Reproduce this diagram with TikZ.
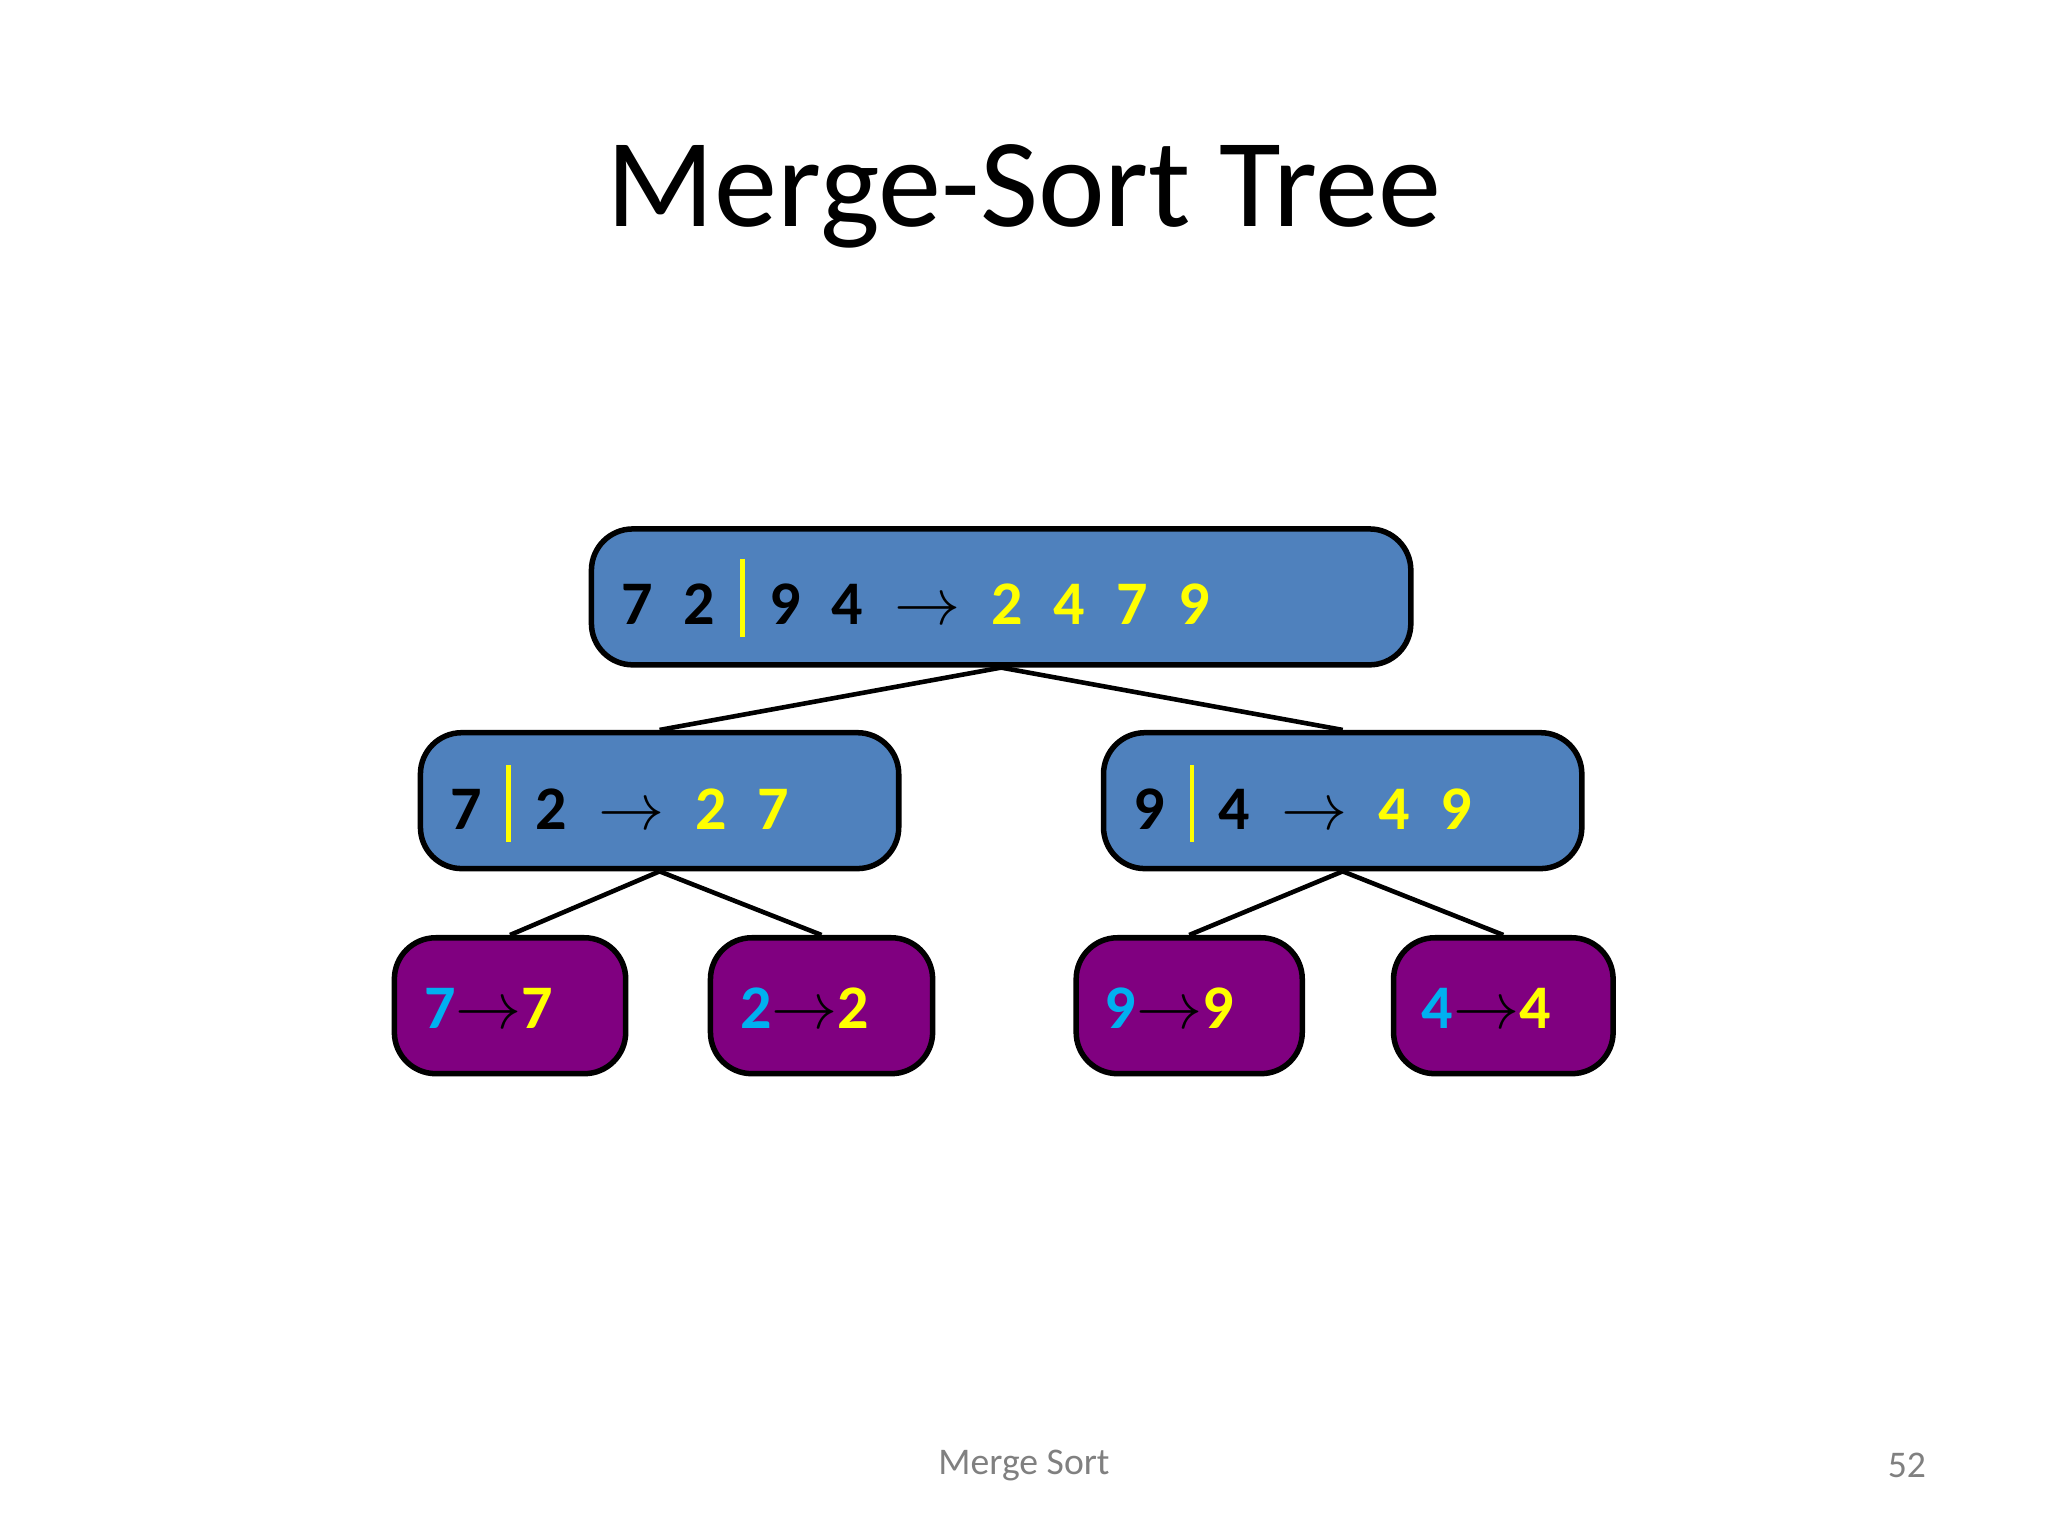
\documentclass[tikz,border=0pt]{standalone}
\usepackage{fontspec}
\setmainfont{Carlito}
\begin{document}
\begin{tikzpicture}[x=0.01cm,y=-0.01cm,
  bluebox/.style={draw=black,line width=1.2pt,rounded corners=9pt,fill=boxblue,inner sep=0pt},
  purplebox/.style={draw=black,line width=1.2pt,rounded corners=9pt,fill=boxpurple,inner sep=0pt},
  lbl/.style={anchor=west,inner sep=0pt,font=\fontsize{13.5}{15}\bfseries\selectfont},
  edge/.style={line width=1pt,black}]
\definecolor{boxblue}{HTML}{4F81BD}
\definecolor{boxpurple}{HTML}{800080}
\definecolor{ycol}{HTML}{FFFF00}
\definecolor{ccol}{HTML}{00B0F0}
\newcommand{\gp}{\hspace{0.5em}}
\newcommand{\vbar}{\hspace{0.4em}{\color{ycol}\rule[-0.2em]{1pt}{1.25em}}\hspace{0.4em}}
\newcommand{\arr}{$\rightarrow$}
\useasboundingbox (0,0) rectangle (1568,1176);
\node[font=\fontsize{27.5}{32}\selectfont] (title) at (784,150) {Merge-Sort Tree};
\node[font=\fontsize{8.2}{10}\selectfont,text=gray] (foot) at (784,1122) {Merge Sort};
\node[font=\fontsize{8.2}{10}\selectfont,text=gray] (num) at (1460,1122) {52};
% boxes
\node[bluebox,minimum width=6.27cm,minimum height=1.04cm] (r) at (766.5,457) {};
\node[bluebox,minimum width=3.66cm,minimum height=1.04cm] (a) at (505,613) {};
\node[bluebox,minimum width=3.66cm,minimum height=1.04cm] (b) at (1028,613) {};
\node[purplebox,minimum width=1.77cm,minimum height=1.04cm] (l1) at (390.5,770) {};
\node[purplebox,minimum width=1.70cm,minimum height=1.04cm] (l2) at (629,770) {};
\node[purplebox,minimum width=1.73cm,minimum height=1.04cm] (l3) at (910.5,770) {};
\node[purplebox,minimum width=1.68cm,minimum height=1.04cm] (l4) at (1151,770) {};
% edges
\draw[edge] (r.south) -- (a.north);
\draw[edge] (r.south) -- (b.north);
\draw[edge] (a.south) -- (l1.north);
\draw[edge] (a.south) -- (l2.north);
\draw[edge] (b.south) -- (l3.north);
\draw[edge] (b.south) -- (l4.north);
% labels
\node[lbl] (tr) at (475,458) {7\gp 2\vbar 9\gp 4\gp \arr\gp {\color{ycol}2\gp 4\gp 7\gp 9}};
\node[lbl] (ta) at (344,615) {7\vbar 2\gp \arr\gp {\color{ycol}2\gp 7}};
\node[lbl] (tb) at (867,615) {9\vbar 4\gp \arr\gp {\color{ycol}4\gp 9}};
\node[lbl] (t1) at (324,772) {{\color{ccol}7}\arr{\color{ycol}7}};
\node[lbl] (t2) at (566,772) {{\color{ccol}2}\arr{\color{ycol}2}};
\node[lbl] (t3) at (845,772) {{\color{ccol}9}\arr{\color{ycol}9}};
\node[lbl] (t4) at (1088,772) {{\color{ccol}4}\arr{\color{ycol}4}};
\end{tikzpicture}
\end{document}
